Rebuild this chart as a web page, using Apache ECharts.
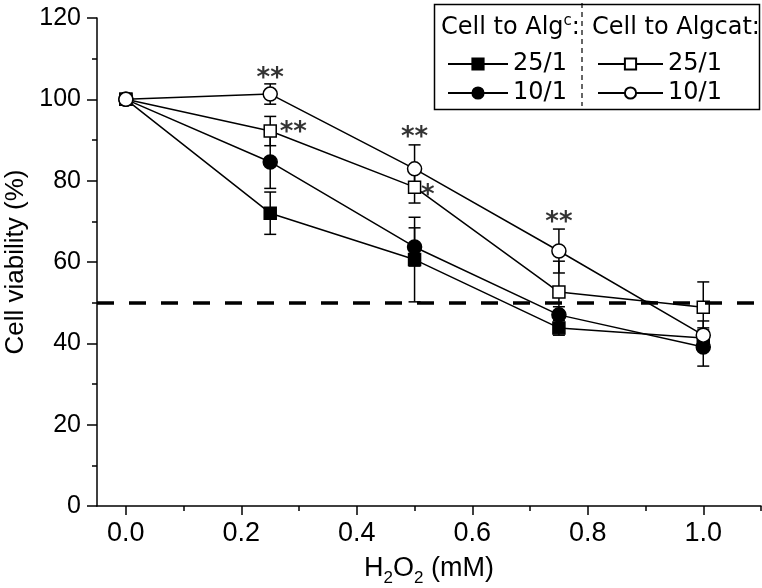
<!DOCTYPE html>
<html>
<head>
<meta charset="utf-8">
<script src="https://cdn.jsdelivr.net/npm/echarts@6/dist/echarts.min.js"></script>
<style>
  html, body { margin: 0; padding: 0; background: #fff; }
  #chart { width: 762px; height: 588px; }
</style>
</head>
<body>
<div id="chart"></div>
<script>
// H2O2 concentrations (mM)
const doses = [0, 0.25, 0.5, 0.75, 1.0];

// cell viability (%) and error bars
const algSq25 = [100, 72.0, 60.6, 43.8, 41.3];
const algSq25Err = [0, 5.2, 10.4, 1.8, 2.0];
const algCi10 = [100, 84.6, 63.7, 47.0, 39.1];
const algCi10Err = [0, 6.5, 4.7, 2.0, 4.7];
const catSq25 = [100, 92.2, 78.4, 52.6, 48.9];
const catSq25Err = [0, 3.6, 3.9, 7.6, 6.2];
const catCi10 = [100, 101.3, 82.9, 62.7, 42.0];
const catCi10Err = [0, 2.5, 5.9, 5.4, 3.5];

// significance marks [x, y, text]
const sigMarks = [
  [0.25, 106.5, '**'],
  [0.29, 93.2, '**'],
  [0.5, 92.0, '**'],
  [0.523, 77.7, '*'],
  [0.75, 71.1, '**']
];

const xLabelVals = [0, 0.2, 0.4, 0.6, 0.8, 1.0];
const xMinorVals = [0.1, 0.3, 0.5, 0.7, 0.9, 1.1];
const threshold = 50;

const FONT = "'Liberation Sans', Arial, sans-serif";
const LEG_FONT = "'DejaVu Sans', sans-serif";

let chart = echarts.init(document.getElementById('chart'));

function lineSeries(name, vals, symbol, filled, size) {
  return {
    name: name,
    type: 'line',
    data: doses.map((d, i) => [d, vals[i]]),
    symbol: symbol,
    symbolSize: size,
    showAllSymbol: true,
    z: 3,
    lineStyle: { color: '#000', width: 1.5 },
    itemStyle: {
      color: filled ? '#000' : '#fff',
      borderColor: '#000',
      borderWidth: 1.5
    },
    emphasis: { disabled: true }
  };
}

function errSeries(vals, errs) {
  return {
    type: 'custom',
    z: 2,
    silent: true,
    encode: { x: 0, y: [1, 2] },
    data: doses.map((d, i) => [d, vals[i] - errs[i], vals[i] + errs[i]]).filter((r, i) => errs[i] > 0),
    renderItem: function (params, api) {
      let x = api.value(0);
      let lo = api.coord([x, api.value(1)]);
      let hi = api.coord([x, api.value(2)]);
      let w = 6;
      let st = { stroke: '#000', lineWidth: 1.5 };
      return {
        type: 'group',
        children: [
          { type: 'line', shape: { x1: lo[0], y1: lo[1], x2: hi[0], y2: hi[1] }, style: st },
          { type: 'line', shape: { x1: hi[0] - w, y1: hi[1], x2: hi[0] + w, y2: hi[1] }, style: st },
          { type: 'line', shape: { x1: lo[0] - w, y1: lo[1], x2: lo[0] + w, y2: lo[1] }, style: st }
        ]
      };
    }
  };
}

let series = [
  errSeries(algSq25, algSq25Err),
  errSeries(algCi10, algCi10Err),
  errSeries(catSq25, catSq25Err),
  errSeries(catCi10, catCi10Err),
  Object.assign(lineSeries('alg 25/1', algSq25, 'rect', true, 12), {
    markLine: {
      silent: true,
      symbol: 'none',
      label: { show: false },
      lineStyle: { color: '#000', width: 3.5, type: [17, 15] },
      data: [{ yAxis: threshold }]
    }
  }),
  lineSeries('alg 10/1', algCi10, 'circle', true, 14),
  lineSeries('cat 25/1', catSq25, 'rect', false, 12),
  lineSeries('cat 10/1', catCi10, 'circle', false, 14),
  {
    type: 'scatter',
    silent: true,
    symbolSize: 0,
    z: 4,
    data: sigMarks,
    label: {
      show: true,
      position: 'inside',
      formatter: p => p.value[2],
      color: '#000',
      fontFamily: LEG_FONT,
      fontWeight: 'bold',
      fontSize: 26,
      offset: [0, 6]
    }
  }
];

chart.setOption({
  animation: false,
  backgroundColor: '#fff',
  grid: { left: 97, right: 1, top: 18, bottom: 82, outerBoundsMode: 'none', containLabel: false },
  xAxis: [{
    type: 'value',
    min: -0.05,
    max: 1.1,
    name: 'H{sub|2}O{sub|2} (mM)',
    nameLocation: 'middle',
    nameGap: 44,
    nameTextStyle: {
      color: '#000', fontFamily: FONT, fontSize: 27,
      rich: { sub: { fontSize: 17, fontFamily: FONT, color: '#000', padding: [20, 0, 0, 0] } }
    },
    splitLine: { show: false },
    axisLine: { onZero: false, lineStyle: { color: '#000', width: 1.5 } },
    axisTick: { customValues: xLabelVals, length: 9, lineStyle: { color: '#000', width: 1.5 } },
    axisLabel: {
      customValues: xLabelVals,
      margin: 14,
      color: '#000', fontFamily: FONT, fontSize: 27,
      formatter: v => v.toFixed(1)
    }
  }, {
    type: 'value',
    min: -0.05,
    max: 1.1,
    position: 'bottom',
    splitLine: { show: false },
    axisLine: { show: false, onZero: false },
    axisLabel: { show: false },
    axisTick: { customValues: xMinorVals, length: 5, lineStyle: { color: '#000', width: 1.5 } }
  }],
  yAxis: {
    type: 'value',
    min: 0,
    max: 120,
    interval: 20,
    name: 'Cell viability (%)',
    nameLocation: 'middle',
    nameGap: 66,
    nameTextStyle: { color: '#000', fontFamily: FONT, fontSize: 26 },
    splitLine: { show: false },
    axisLine: { show: true, onZero: false, lineStyle: { color: '#000', width: 1.5 } },
    axisTick: { length: 10, lineStyle: { color: '#000', width: 1.5 } },
    minorTick: { show: true, splitNumber: 2, length: 5, lineStyle: { color: '#000', width: 1.5 } },
    axisLabel: { margin: 16, color: '#000', fontFamily: FONT, fontSize: 25 }
  },
  legend: [{
    data: ['alg 25/1', 'alg 10/1'],
    orient: 'vertical',
    left: 442,
    top: 47,
    itemWidth: 60,
    itemHeight: 14,
    itemGap: 5,
    selectedMode: false,
    formatter: n => n.split(' ')[1],
    textStyle: { color: '#000', fontFamily: LEG_FONT, fontSize: 24 }
  }, {
    data: ['cat 25/1', 'cat 10/1'],
    orient: 'vertical',
    left: 592,
    top: 47,
    itemWidth: 65,
    itemHeight: 14,
    itemGap: 5,
    selectedMode: false,
    formatter: n => n.split(' ')[1],
    textStyle: { color: '#000', fontFamily: LEG_FONT, fontSize: 24 }
  }],
  graphic: [
    { type: 'rect', left: 432, top: 2, z: 10, shape: { width: 325, height: 105 },
      style: { fill: 'none', stroke: '#000', lineWidth: 1.5 } },
    { type: 'line', z: 10, shape: { x1: 582, y1: 3, x2: 582, y2: 106 },
      style: { stroke: '#000', lineWidth: 1.2, lineDash: [5, 4] } },
    { type: 'text', left: 441, top: 14, z: 10,
      style: {
        text: 'Cell to Alg{sup|c}:',
        fill: '#000', font: "24px 'DejaVu Sans', sans-serif",
        rich: { sup: { fontSize: 15, fontFamily: LEG_FONT, fill: '#000', padding: [0, 0, 12, 0] } }
      } },
    { type: 'text', left: 592, top: 16, z: 10,
      style: { text: 'Cell to Algcat:', fill: '#000', font: "24px 'DejaVu Sans', sans-serif" } }
  ],
  series: series
});
</script>
</body>
</html>
